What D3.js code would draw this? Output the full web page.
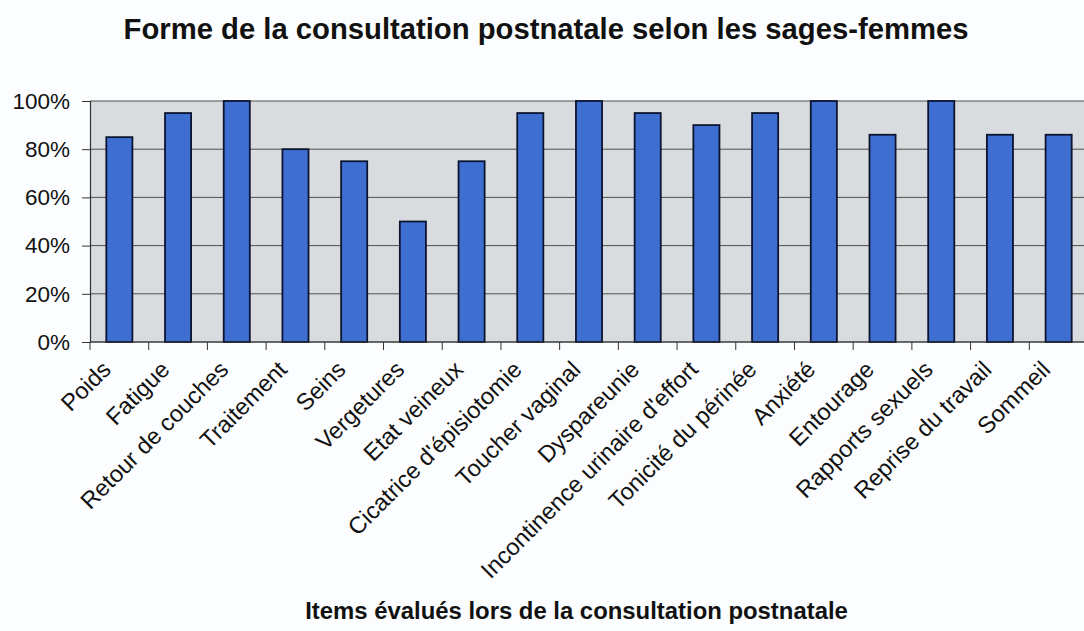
<!DOCTYPE html>
<html>
<head>
<meta charset="utf-8">
<script src="https://cdn.jsdelivr.net/npm/d3@7/dist/d3.min.js"></script>
<style>
  html, body { margin: 0; padding: 0; background: #fbfdfe; }
  svg { display: block; }
  text { font-family: "Liberation Sans", Arial, sans-serif; fill: #111; }
</style>
</head>
<body>
<svg id="chart" width="1084" height="631"></svg>
<script>
const categories = ["Poids", "Fatigue", "Retour de couches", "Traitement", "Seins", "Vergetures",
  "Etat veineux", "Cicatrice d'épisiotomie", "Toucher vaginal", "Dyspareunie",
  "Incontinence urinaire d'effort", "Tonicité du périnée", "Anxiété", "Entourage",
  "Rapports sexuels", "Reprise du travail", "Sommeil"];
const values = [0.85, 0.95, 1.00, 0.80, 0.75, 0.50, 0.75, 0.95, 1.00, 0.95, 0.90, 0.95, 1.00, 0.86, 1.00, 0.86, 0.86];
const yTicks = [0, 0.2, 0.4, 0.6, 0.8, 1.0];
const chartTitle = "Forme de la consultation postnatale selon les sages-femmes";
const xTitle = "Items évalués lors de la consultation postnatale";

const svg = d3.select("#chart");
const W = 1084, H = 631;
const plot = { left: 90, right: 1088, top: 101, bottom: 342 };

svg.append("rect").attr("width", W).attr("height", H).attr("fill", "#fbfdfe");

const x = d3.scaleBand().domain(categories).range([plot.left, plot.right])
  .paddingInner(0.5556).paddingOuter(0.2778);
const y = d3.scaleLinear().domain([0, 1]).range([plot.bottom, plot.top]);

// plot background
svg.append("rect")
  .attr("x", plot.left).attr("y", plot.top)
  .attr("width", plot.right - plot.left).attr("height", plot.bottom - plot.top)
  .attr("fill", "#d9dcdf");

// gridlines
svg.append("g").selectAll("line").data(yTicks).join("line")
  .attr("x1", plot.left).attr("x2", plot.right)
  .attr("y1", d => y(d)).attr("y2", d => y(d))
  .attr("stroke", "#4f4f4f").attr("stroke-width", 1);

// bars
svg.append("g").selectAll("rect").data(values).join("rect")
  .attr("x", (d, i) => x(categories[i]))
  .attr("y", d => y(d))
  .attr("width", x.bandwidth())
  .attr("height", d => y(0) - y(d))
  .attr("fill", "#3e6fd0")
  .attr("stroke", "#0b1430").attr("stroke-width", 1.8);

// y axis
const yAxis = d3.axisLeft(y).tickValues(yTicks).tickFormat(d3.format(".0%"))
  .tickSize(8).tickPadding(12);
const gy = svg.append("g").attr("transform", `translate(${plot.left},0)`).call(yAxis);
gy.select(".domain").attr("stroke", "#333").attr("stroke-width", 1.2);
gy.selectAll(".tick line").attr("stroke", "#333");
gy.selectAll(".tick text").attr("font-size", 22.5).attr("font-family", "Liberation Sans, Arial, sans-serif").attr("fill", "#111");

// x axis line + boundary ticks
const step = x.step();
const boundaries = d3.range(categories.length + 1).map(i => plot.left + i * step);
svg.append("line").attr("x1", plot.left).attr("x2", plot.right)
  .attr("y1", plot.bottom).attr("y2", plot.bottom)
  .attr("stroke", "#333").attr("stroke-width", 1.2);
svg.append("g").selectAll("line").data(boundaries).join("line")
  .attr("x1", d => d).attr("x2", d => d)
  .attr("y1", plot.bottom).attr("y2", plot.bottom + 8)
  .attr("stroke", "#333").attr("stroke-width", 1);

// x labels
svg.append("g").selectAll("text").data(categories).join("text")
  .attr("transform", d => `translate(${x(d) + x.bandwidth() / 2 - 7},${plot.bottom + 29}) rotate(-45)`)
  .attr("text-anchor", "end")
  .attr("font-size", 23.5)
  .text(d => d);

// title
function fitText(sel, targetWidth) {
  const base = 20;
  sel.attr("font-size", base);
  const len = sel.node().getComputedTextLength();
  sel.attr("font-size", base * targetWidth / len);
}
const t = svg.append("text").attr("x", 546).attr("y", 39)
  .attr("text-anchor", "middle").attr("font-weight", "bold").text(chartTitle);
fitText(t, 845);

const xt = svg.append("text").attr("x", 576.5).attr("y", 619)
  .attr("text-anchor", "middle").attr("font-weight", "bold").text(xTitle);
fitText(xt, 543);
</script>
</body>
</html>
